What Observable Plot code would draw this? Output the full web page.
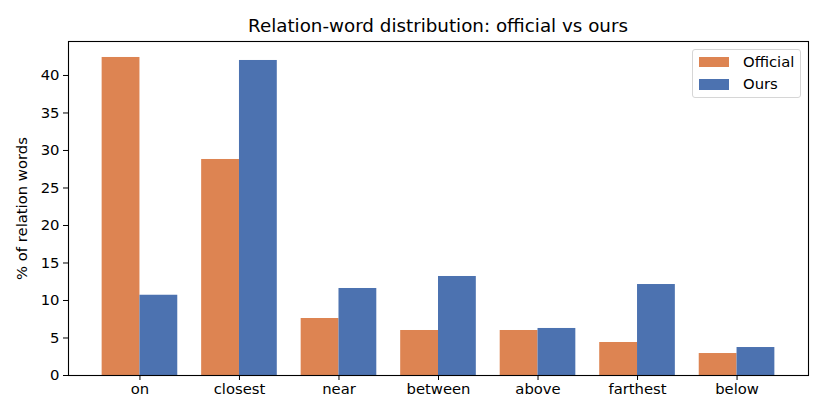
<!DOCTYPE html>
<html>
<head>
<meta charset="utf-8">
<script src="https://cdn.jsdelivr.net/npm/d3@7"></script>
<script src="https://cdn.jsdelivr.net/npm/@observablehq/plot@0.6"></script>
<style>
  html, body { margin: 0; padding: 0; background: #fff; }
  #wrap { position: relative; width: 825px; height: 418px; font-family: "DejaVu Sans", sans-serif; color: #000; }
  #title { height: 36px; box-sizing: border-box; padding-top: 16.5px; line-height: 18.3px; font-size: 18.3px; text-align: center; padding-left: 51px; white-space: nowrap; }
  #legend { position: absolute; left: 692px; top: 49px; width: 109px; height: 49px; border: 1px solid #d6d6d6; border-radius: 3px; background: rgba(255,255,255,0.8); box-sizing: border-box; font-size: 14.8px; }
  .row { position: absolute; left: 0; height: 16px; }
  .sw { position: absolute; left: 6px; width: 30px; height: 10.5px; }
  .lab { position: absolute; left: 50px; top: -4px; white-space: nowrap; line-height: 17px; }
  svg { display: block; }
</style>
</head>
<body>
<div id="wrap">
  <div id="title">Relation-word distribution: official vs ours</div>
  <div id="chart"></div>
  <div id="legend"></div>
</div>
<script>
const categories = ["on", "closest", "near", "between", "above", "farthest", "below"];
const seriesNames = ["Official", "Ours"];
const officialValues = [42.4, 28.8, 7.6, 6.0, 6.0, 4.4, 2.93];
const oursValues = [10.7, 42.0, 11.6, 13.2, 6.27, 12.13, 3.73];
const yTicks = [0, 5, 10, 15, 20, 25, 30, 35, 40];
const yLabel = "% of relation words";
const colors = ["#DD8452", "#4C72B0"];

const barW = 0.38;
const rows = [];
categories.forEach((c, i) => {
  rows.push({i, cat: c, series: "Official", value: officialValues[i]});
  rows.push({i, cat: c, series: "Ours", value: oursValues[i]});
});

const chart = Plot.plot({
  width: 825,
  height: 382,
  marginTop: 5,
  marginBottom: 43,
  marginLeft: 68,
  marginRight: 17,
  style: {fontFamily: "DejaVu Sans, sans-serif", fontSize: "14.8px", color: "#000", background: "#fff"},
  x: {type: "linear", domain: [-0.718, 6.718]},
  y: {domain: [0, 44.53]},
  color: {domain: seriesNames, range: colors},
  marks: [
    Plot.rectY(rows, {
      x1: d => d.series === "Official" ? d.i - barW : d.i,
      x2: d => d.series === "Official" ? d.i : d.i + barW,
      y1: 0,
      y2: "value",
      fill: "series"
    }),
    Plot.frame({stroke: "#000", strokeWidth: 1.1}),
    Plot.axisX({ticks: d3.range(categories.length), tickFormat: i => categories[i], tickSize: 5, tickPadding: 3, label: null, stroke: "#000", fontSize: 14.8}),
    Plot.axisY({ticks: yTicks, tickSize: 5, tickPadding: 4, label: null, stroke: "#000", fontSize: 14.8}),
    Plot.text([yLabel], {frameAnchor: "left", text: d => d, rotate: -90, dx: -46, fontSize: 14.8, fill: "#000", textAnchor: "middle"})
  ]
});
document.getElementById("chart").appendChild(chart);

const legend = document.getElementById("legend");
seriesNames.forEach((s, k) => {
  const row = document.createElement("div");
  row.className = "row";
  row.style.top = (6.5 + k * 22.7) + "px";
  const sw = document.createElement("div");
  sw.className = "sw";
  sw.style.background = colors[k];
  const lab = document.createElement("div");
  lab.className = "lab";
  lab.textContent = s;
  row.appendChild(sw);
  row.appendChild(lab);
  legend.appendChild(row);
});
</script>
</body>
</html>
